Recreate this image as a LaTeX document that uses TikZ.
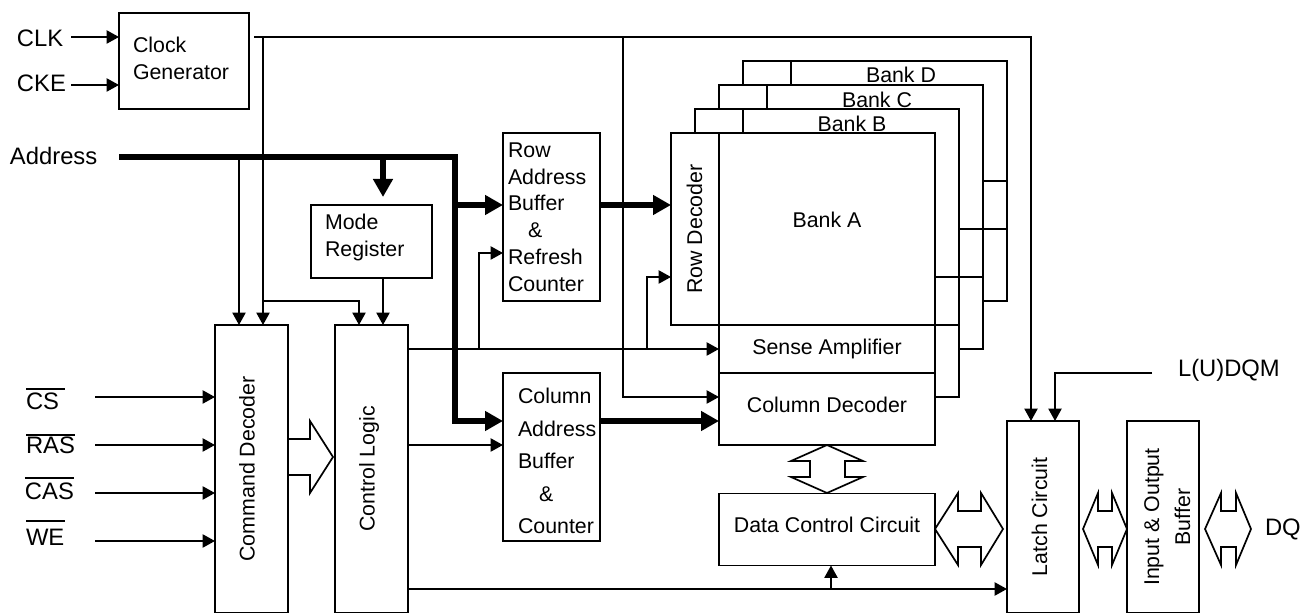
\documentclass[tikz,border=0pt]{standalone}
\usepackage{fontspec}
\setmainfont{Liberation Sans}
\usetikzlibrary{arrows.meta,calc}
\newcommand\txtfont{\fontsize{10.67}{13.4}\selectfont}
\newcommand\lblfont{\fontsize{11.9}{14}\selectfont}
% single line: baseline #1/2 below centre
\newcommand\bl[2]{\rule{0pt}{#1}\smash{#2}}
% rotated text: baseline #1/2 right of centre
\newcommand\vtxt[2]{\rotatebox{90}{\rule{0pt}{#1}\smash{#2}}}
\newcommand\ovl[3]{\rlap{\raisebox{#1}{\rule{#2}{0.75pt}}}#3}
\tikzset{
  wh/.style 2 args={minimum width=#1*0.5pt,minimum height=#2*0.5pt},
  blockbox/.style={draw=black,fill=white,line width=0.85pt,outer sep=0pt,inner sep=0pt,font=\txtfont},
  wire/.style={line width=0.85pt,draw=black},
  arr/.style={wire,-{Triangle[length=6.2pt,width=6.6pt]}},
  bus/.style={line width=2.9pt,draw=black},
  busarr/.style={bus,-{Triangle[length=9pt,width=9.5pt]}},
  hollow/.style={line width=0.85pt,draw=black,fill=white,miter limit=10},
  lbl/.style={anchor=base west,inner sep=0pt,outer sep=0pt,font=\lblfont},
  banklbl/.style={anchor=base,inner sep=0pt,outer sep=0pt,font=\txtfont},
}
\begin{document}
\begin{tikzpicture}[x=0.5pt,y=-0.5pt]
\useasboundingbox (0,0) rectangle (1300,613);
% stacked banks
\node[blockbox,wh={264}{168}] (bankD) at (875,145) {};
\draw[wire] ($(bankD.north west)+(48,0)$) -- ++(0,24);
\node[blockbox,wh={264}{192}] (bankC) at (851,181) {};
\draw[wire] ($(bankC.north west)+(48,0)$) -- ++(0,24);
\node[blockbox,wh={264}{216}] (bankB) at (827,217) {};
\draw[wire] ($(bankB.north west)+(48,0)$) -- ++(0,24);
% blocks
\node[blockbox,wh={130}{96},text width=65pt,align=left] (clock) at (184,61) {\hspace*{7pt}Clock\\\hspace*{7pt}Generator\rule[-2.7pt]{0pt}{0pt}};
\node[blockbox,wh={121}{73},text width=60.5pt,align=left] (mode) at (371.5,241.5) {\hspace*{7pt}Mode\\\hspace*{7pt}Register\rule[-6pt]{0pt}{0pt}};
\node[blockbox,wh={73}{288}] (cmd) at (251.5,469) {\vtxt{3pt}{Command Decoder}};
\node[blockbox,wh={73}{288}] (ctrl) at (371.5,469) {\vtxt{3pt}{Control Logic}};
\node[blockbox,wh={97}{168},text width=48.5pt,align=left] (rowbuf) at (551.5,217) {\hspace*{2.5pt}Row\\\hspace*{2.5pt}Address\\\hspace*{2.5pt}Buffer\\\hspace*{12.5pt}\&\\\hspace*{2.5pt}Refresh\\\hspace*{2.5pt}Counter};
\node[blockbox,wh={97}{168},text width=48.5pt,align=left,font=\fontsize{10.67}{16.25}\selectfont] (colbuf) at (551.5,457) {\rule{0pt}{11.7pt}\hspace*{7.5pt}Column\\\hspace*{7.5pt}Address\\\hspace*{7.5pt}Buffer\\\hspace*{18pt}\&\\\hspace*{7.5pt}Counter};
\node[blockbox,wh={48}{192}] (rowdec) at (695,229) {\vtxt{7pt}{Row Decoder}};
\node[blockbox,wh={216}{192}] (bankA) at (827,229) {\rule[-1pt]{0pt}{0pt}\smash{Bank A}};
\node[blockbox,wh={216}{48}] (sense) at (827,349) {\bl{6pt}{Sense Amplifier}};
\node[blockbox,wh={216}{72}] (coldec) at (827,409) {\bl{4pt}{Column Decoder}};
\node[blockbox,wh={216}{72}] (data) at (827,529.5) {\bl{3.5pt}{Data Control Circuit}};
\node[blockbox,wh={72}{192}] (latch) at (1043,517) {\vtxt{4pt}{Latch Circuit}};
\node[blockbox,wh={72}{192}] (iobuf) at (1163,517) {\rotatebox{90}{\makebox[0pt]{\smash{\raisebox{2pt}{Input \& Output}}}\makebox[0pt]{\smash{\raisebox{-13.5pt}{Buffer}}}}};
% bank interconnect
\draw[wire] (bankD.south east) |- (bankC.east |- 0,301);
\draw[wire] (bankC.south east) |- (bankB.east |- 0,349);
\draw[wire] (bankB.south east) |- (coldec.east |- 0,397);
\draw[wire] (bankA.east |- 0,277) -- (bankC.east |- 0,277);
\draw[wire] (bankB.east |- 0,229) -- (bankD.east |- 0,229);
\draw[wire] (bankC.east |- 0,181) -- (bankD.east |- 0,181);
% labels
\node[banklbl] (bankDlabel) at (901,83) {Bank D};
\node[banklbl] (bankClabel) at (877,108) {Bank C};
\node[banklbl] (bankBlabel) at (852,132) {Bank B};
\node[lbl] (clklabel) at (17,46.5) {CLK};
\node[lbl] (ckelabel) at (17,91.5) {CKE};
\node[lbl] (addrlabel) at (10,165) {Address};
\node[lbl] (cslabel) at (26,410) {\ovl{10pt}{19.5pt}{CS}};
\node[lbl] (raslabel) at (26,454) {\ovl{9pt}{24.5pt}{RAS}};
\node[lbl] (caslabel) at (25,500) {\ovl{10.5pt}{24.5pt}{CAS}};
\node[lbl] (welabel) at (26,546) {\ovl{12pt}{19.5pt}{WE}};
\node[lbl] (dqmlabel) at (1178,377) {L(U)DQM};
\node[lbl] (dqlabel) at (1265,536) {DQ};
% free ends and junctions
\coordinate (clkin) at (71,37);
\coordinate (ckein) at (71,85);
\coordinate (csin) at (95,397);
\coordinate (rasin) at (95,445);
\coordinate (casin) at (95,493);
\coordinate (wein) at (95,541);
\coordinate (clkout) at (254,37);
\coordinate (clkcmd) at (263,37);
\coordinate (clkcol) at (623,37);
\coordinate (clkbranch) at (263,301);
\coordinate (addrin) at (119,157);
\coordinate (addrcmd) at (239,157);
\coordinate (addrmode) at (383,157);
\coordinate (modetip) at (383,197);
\coordinate (addrlow) at (455,421);
\coordinate (addrrow) at (455,205);
\coordinate (ctrlrow) at (479,349);
\coordinate (ctrldec) at (647,349);
\coordinate (ctrldata) at (831,589);
\coordinate (dqmin) at (1152,373);
% clock net
\draw[arr] (clkin) -- (clkin -| clock.west);
\draw[arr] (ckein) -- (ckein -| clock.west);
\draw[arr] (clkout) -| (1031,421);
\draw[arr] (clkcmd) -- (clkcmd |- cmd.north);
\draw[arr] (clkbranch) -| (359,325);
\draw[arr] (clkcol) |- (coldec.west |- 0,397);
% command inputs
\draw[arr] (csin) -- (csin -| cmd.west);
\draw[arr] (rasin) -- (rasin -| cmd.west);
\draw[arr] (casin) -- (casin -| cmd.west);
\draw[arr] (wein) -- (wein -| cmd.west);
% address bus
\draw[busarr] (addrin) -| (addrlow) -- (addrlow -| colbuf.west);
\draw[busarr] (addrrow) -- (addrrow -| rowbuf.west);
\draw[busarr] (addrmode) -- (modetip);
\draw[arr] (addrcmd) -- (addrcmd |- cmd.north);
\draw[arr] (mode.south -| addrmode) -- (addrmode |- ctrl.north);
\draw[busarr] (rowbuf.east |- addrrow) -- (rowdec.west |- addrrow);
\draw[busarr] (colbuf.east |- addrlow) -- (coldec.west |- addrlow);
% control logic outputs
\draw[arr] (ctrl.east |- ctrlrow) -- (sense.west |- ctrlrow);
\draw[arr] (ctrlrow) |- (rowbuf.west |- 0,253);
\draw[arr] (ctrldec) |- (rowdec.west |- 0,277);
\draw[arr] (ctrl.east |- 0,445) -- (colbuf.west |- 0,445);
\draw[arr] (ctrl.east |- ctrldata) -- (latch.west |- ctrldata);
\draw[arr] (ctrldata) -- (ctrldata |- data.south);
\draw[arr] (dqmin) -| (1055,421);
% hollow bus arrows
\draw[hollow,fill=none] (288,439) -- (310,439) -- (310,421) -- (333,457) -- (310,493) -- (310,475) -- (288,475);
\draw[hollow] (827,445) -- (863,461) -- (845,461) -- (845,477) -- (863,477) -- (827,493) -- (791,477) -- (810,477) -- (810,461) -- (791,461) -- cycle;
\draw[hollow] (935,529) -- (958,493) -- (958,511) -- (981,511) -- (981,493) -- (1003,529) -- (981,565) -- (981,547) -- (958,547) -- (958,565) -- cycle;
\draw[hollow] (1083,529) -- (1098,493) -- (1098,511) -- (1112,511) -- (1112,493) -- (1127,529) -- (1112,565) -- (1112,547) -- (1098,547) -- (1098,565) -- cycle;
\draw[hollow] (1205,529) -- (1221,493) -- (1221,511) -- (1236,511) -- (1236,493) -- (1251,529) -- (1236,565) -- (1236,547) -- (1221,547) -- (1221,565) -- cycle;
\end{tikzpicture}
\end{document}
